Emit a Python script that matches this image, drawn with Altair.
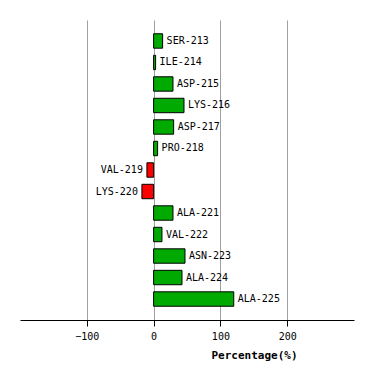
import altair as alt
import pandas as pd

residues = ["SER-213", "ILE-214", "ASP-215", "LYS-216", "ASP-217", "PRO-218",
            "VAL-219", "LYS-220", "ALA-221", "VAL-222", "ASN-223", "ALA-224", "ALA-225"]
values = [13.5, 3, 29, 45.5, 30, 6, -10, -17.5, 29, 12.5, 47, 42.5, 120]

df = pd.DataFrame({"res": residues, "val": values})
df["sign"] = ["pos" if v >= 0 else "neg" for v in values]

FONT = "DejaVu Sans Mono"

y_enc = alt.Y("res:N", sort=residues, axis=None,
              scale=alt.Scale(paddingInner=0.33, paddingOuter=0.64))
x_scale = alt.Scale(domain=[-200, 300], nice=False, zero=False)

bars = alt.Chart(df).mark_bar(stroke="black", strokeWidth=1, strokeOpacity=1).encode(
    x=alt.X("val:Q", scale=x_scale,
            axis=alt.Axis(values=[-100, 0, 100, 200], title="Percentage(%)",
                          grid=True, gridColor="#a0a0a0", gridWidth=1,
                          domainColor="black", tickColor="black", tickSize=6,
                          labelFont=FONT, labelFontSize=10, labelColor="black",
                          labelPadding=5,
                          titleFont=FONT, titleFontSize=11, titleFontWeight="bold",
                          titleColor="black", titleX=234, titleY=35,
                          titleBaseline="middle", titleAnchor="middle")),
    x2=alt.datum(0),
    y=y_enc,
    color=alt.Color("sign:N", scale=alt.Scale(domain=["pos", "neg"],
                                               range=["#00aa00", "#ff0000"]),
                    legend=None),
)

pos_text = alt.Chart(df).transform_filter("datum.val >= 0").mark_text(
    align="left", dx=4, font=FONT, fontSize=10, color="black", baseline="middle"
).encode(x=alt.X("val:Q", scale=x_scale), y=y_enc, text="res:N")

neg_text = alt.Chart(df).transform_filter("datum.val < 0").mark_text(
    align="right", dx=-4, font=FONT, fontSize=10, color="black", baseline="middle"
).encode(x=alt.X("val:Q", scale=x_scale), y=y_enc, text="res:N")

chart = alt.layer(bars, pos_text, neg_text).properties(
    width=334, height=300,
    autosize=alt.AutoSizeParams(type="none"),
    padding={"left": 12, "top": 12, "right": 4, "bottom": 44},
).configure_view(stroke=None)

chart.save("out.html", embed_options={"renderer": "svg", "actions": False})
